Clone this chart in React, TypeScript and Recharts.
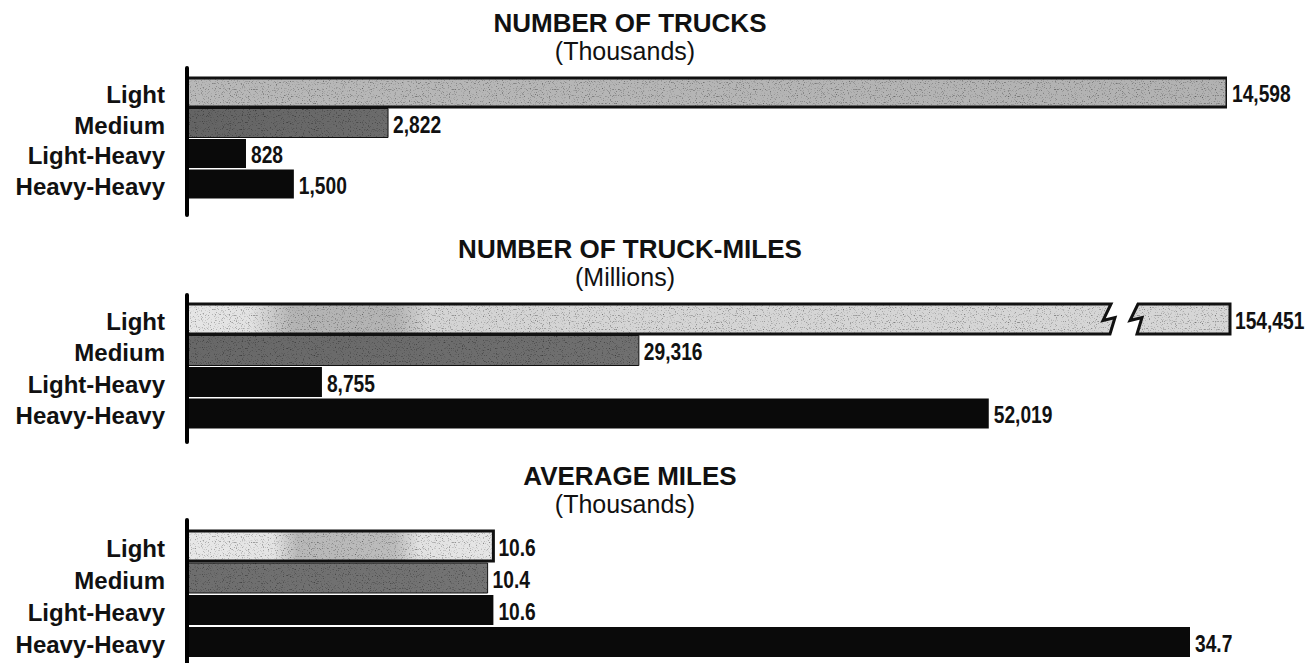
import React from 'react';
import { BarChart, Bar, XAxis, YAxis, LabelList } from 'recharts';

// ---- data ----
const CATEGORIES = ['Light', 'Medium', 'Light-Heavy', 'Heavy-Heavy'];
const TRUCKS = [14598, 2822, 828, 1500];
const TRUCK_MILES = [154451, 29316, 8755, 52019];
const AVG_MILES = [10.6, 10.4, 10.6, 34.7];
const TITLES = ['NUMBER OF TRUCKS', 'NUMBER OF TRUCK-MILES', 'AVERAGE MILES'];
const UNITS = ['(Thousands)', '(Millions)', '(Thousands)'];

const SERIES = [TRUCKS, TRUCK_MILES, AVG_MILES];

// ---- layout / style ----
const W = 1316;
const CAT_FONT = "'Liberation Sans', Arial, Helvetica, sans-serif";
const NUM_FONT = "'Liberation Sans', Arial, Helvetica, sans-serif";

const PANELS = [
  {
    top: 0, height: 226, mTop: 68, mBottom: 11, padTop: 9, padBottom: 16,
    domainMax: 14598, plotRight: 1227,
    fills: ['url(#lightA)', 'url(#medA)', '#0a0a0a', '#0a0a0a'],
    strokes: [3, 1, 0, 0], fmt: (v: number) => v.toLocaleString('en-US'),
  },
  {
    top: 226, height: 226, mTop: 69, mBottom: 10, padTop: 8, padBottom: 13,
    domainMax: 67800, plotRight: 1232,
    fills: ['url(#lightB)', 'url(#medB)', '#0a0a0a', '#0a0a0a'],
    strokes: [3, 1, 0, 0], fmt: (v: number) => v.toLocaleString('en-US'),
  },
  {
    top: 453, height: 220, mTop: 67, mBottom: 5, padTop: 10, padBottom: 10,
    domainMax: 34.7, plotRight: 1190,
    fills: ['url(#lightC)', 'url(#medC)', '#0a0a0a', '#0a0a0a'],
    strokes: [3, 1, 0, 0], fmt: (v: number) => v.toFixed(1),
  },
];

const CatTick = (props: any) => {
  const { x, y, payload } = props;
  return (
    <text x={x} y={y} dy={11} textAnchor="end" fontFamily={CAT_FONT} fontSize={24}
      fontWeight={700} fill="#111">{payload.value}</text>
  );
};

const makeShape = (p: any) => (props: any) => {
  const { x, y, width, height, index, payload } = props;
  const fill = p.fills[index];
  const sw = p.strokes[index];
  const T = y, B = y + height, h = height;
  const limit = p.plotRight - 2;
  let d: string;
  let d2: string | null = null;
  const broken = payload && Number(payload.value) > p.domainMax;
  if (broken) {
    const xb = limit - 119;
    d = `M${x},${T} L${xb},${T} L${xb - 8},${T + 0.55 * h} L${xb + 4},${T + 0.45 * h} L${xb - 1},${B} L${x},${B} Z`;
    const o = 27;
    d2 = `M${xb + o},${T} L${limit},${T} L${limit},${B} L${xb + o - 1},${B} L${xb + o + 4},${T + 0.45 * h} L${xb + o - 8},${T + 0.55 * h} Z`;
  } else {
    d = `M${x},${T} L${x + width},${T} L${x + width},${B} L${x},${B} Z`;
  }
  const isGray = typeof fill === 'string' && fill.startsWith('url');
  return (
    <g>
      <path d={d} fill={fill} filter={isGray ? 'url(#grain)' : undefined} />
      {d2 && <path d={d2} fill={fill} filter={isGray ? 'url(#grain)' : undefined} />}
      {sw > 0 && <path d={d} fill="none" stroke="#111" strokeWidth={sw} strokeLinejoin="miter" />}
      {sw > 0 && d2 && <path d={d2} fill="none" stroke="#111" strokeWidth={sw} strokeLinejoin="miter" />}
    </g>
  );
};

const makeLabel = (p: any) => (props: any) => {
  const { x, y, width, height, value } = props;
  const v = Number(value);
  const end = v > p.domainMax ? p.plotRight - 2 : Number(x) + Number(width);
  const tx = end + 5;
  const ty = Number(y) + Number(height) / 2 + 1;
  return (
    <g transform={`translate(${tx},${ty}) scale(0.8,1)`}>
      <text x={0} y={0} dy="0.36em" fontFamily={NUM_FONT}
        fontSize={24} fontWeight={700} fill="#111">{p.fmt(v)}</text>
    </g>
  );
};

export default function App() {
  return (
    <div style={{ position: 'absolute', left: 0, top: 0, width: W, height: 663, overflow: 'hidden', background: '#fff' }}>
      <svg width={0} height={0} style={{ position: 'absolute' }}>
        <defs>
          <filter id="grain" x="0%" y="0%" width="100%" height="100%" colorInterpolationFilters="sRGB">
            <feTurbulence type="fractalNoise" baseFrequency="0.85" numOctaves={1} seed={7} result="n" />
            <feColorMatrix in="n" type="matrix" values="0 0 0 0 0  0 0 0 0 0  0 0 0 0 0  -4 0 0 0 1.75" result="speck" />
            <feComposite in="speck" in2="SourceAlpha" operator="in" result="s2" />
            <feComponentTransfer in="s2" result="s3">
              <feFuncA type="linear" slope={0.45} />
            </feComponentTransfer>
            <feMerge>
              <feMergeNode in="SourceGraphic" />
              <feMergeNode in="s3" />
            </feMerge>
          </filter>
          <linearGradient id="lightA" x1="0" y1="0" x2="1" y2="0">
            <stop offset="0" stopColor="#b8b8b8" />
            <stop offset="1" stopColor="#b2b2b2" />
          </linearGradient>
          <linearGradient id="medA" x1="0" y1="0" x2="1" y2="0">
            <stop offset="0" stopColor="#646464" />
            <stop offset="1" stopColor="#6c6c6c" />
          </linearGradient>
          <linearGradient id="lightB" gradientUnits="userSpaceOnUse" x1="188" y1="0" x2="1232" y2="0">
            <stop offset="0" stopColor="#e6e6e6" />
            <stop offset="0.06" stopColor="#e2e2e2" />
            <stop offset="0.1" stopColor="#b4b4b4" />
            <stop offset="0.2" stopColor="#b4b4b4" />
            <stop offset="0.23" stopColor="#d4d4d4" />
            <stop offset="1" stopColor="#d6d6d6" />
          </linearGradient>
          <linearGradient id="medB" x1="0" y1="0" x2="1" y2="0">
            <stop offset="0" stopColor="#686868" />
            <stop offset="1" stopColor="#707070" />
          </linearGradient>
          <linearGradient id="lightC" gradientUnits="userSpaceOnUse" x1="188" y1="0" x2="493" y2="0">
            <stop offset="0" stopColor="#e8e8e8" />
            <stop offset="0.28" stopColor="#e4e4e4" />
            <stop offset="0.36" stopColor="#b8b8b8" />
            <stop offset="0.68" stopColor="#bcbcbc" />
            <stop offset="0.76" stopColor="#e2e2e2" />
            <stop offset="1" stopColor="#e6e6e6" />
          </linearGradient>
          <linearGradient id="medC" x1="0" y1="0" x2="1" y2="0">
            <stop offset="0" stopColor="#6e6e6e" />
            <stop offset="1" stopColor="#747474" />
          </linearGradient>
        </defs>
      </svg>
      {PANELS.map((p, i) => {
        const rows = CATEGORIES.map((c, k) => ({ category: c, value: SERIES[i][k] }));
        return (
          <div key={i} style={{ position: 'absolute', left: 0, top: p.top }}>
            <BarChart width={W} height={p.height} data={rows} layout="vertical"
              margin={{ top: p.mTop, bottom: p.mBottom, left: 0, right: W - p.plotRight }}
              barCategoryGap={1}>
              <XAxis type="number" hide domain={[0, p.domainMax]} allowDataOverflow />
              <YAxis type="category" dataKey="category" width={187} tickSize={0} tickMargin={22}
                tickLine={false} interval={0}
                axisLine={{ stroke: '#000', strokeWidth: 4, strokeLinecap: 'round' }}
                padding={{ top: p.padTop, bottom: p.padBottom }}
                tick={<CatTick />} />
              <Bar dataKey="value" isAnimationActive={false} shape={makeShape(p)}>
                <LabelList dataKey="value" content={makeLabel(p)} />
              </Bar>
            </BarChart>
          </div>
        );
      })}
      <svg width={W} height={663} style={{ position: 'absolute', left: 0, top: 0, pointerEvents: 'none' }}>
        {PANELS.map((p, i) => (
          <g key={i}>
            <text x={630} y={p.top + 32} textAnchor="middle" fontFamily={CAT_FONT} fontSize={26}
              fontWeight={700} fill="#111">{TITLES[i]}</text>
            <text x={625} y={p.top + 60} textAnchor="middle" fontFamily={CAT_FONT} fontSize={25}
              fill="#111">{UNITS[i]}</text>
          </g>
        ))}
      </svg>
    </div>
  );
}
